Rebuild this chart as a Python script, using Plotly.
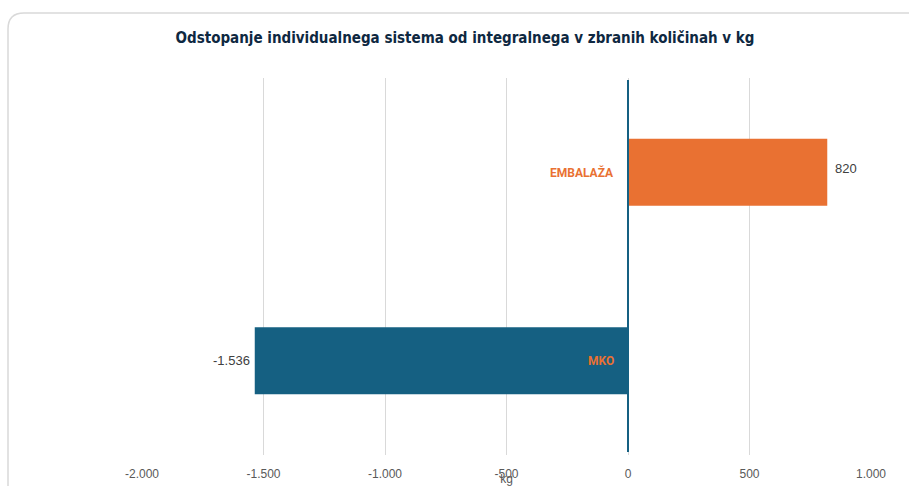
import plotly.graph_objects as go

categories = ["MKO", "EMBALAŽA"]
values = [-1536, 820]
colors = ["#156082", "#E97132"]
tick_vals = [-2000, -1500, -1000, -500, 0, 500, 1000]
tick_text = ["-2.000", "-1.500", "-1.000", "-500", "0", "500", "1.000"]

W, H = 909, 486
L, R, T, B = 142, 38, 78, 31
pw, ph = W - L - R, H - T - B

def px(x):
    return (x - L) / pw

def py(y):
    return (H - B - y) / ph

def fmt(v):
    return f"{v:,.0f}".replace(",", ".")

fig = go.Figure()
fig.add_trace(go.Bar(
    y=categories, x=values, orientation="h",
    marker=dict(color=colors, line=dict(width=0)),
    cliponaxis=False, hoverinfo="skip",
))

for c, v in zip(categories, values):
    fig.add_annotation(x=0, y=c, xref="x", yref="y", text="<b>" + c + "</b>",
                       showarrow=False, xanchor="right", xshift=-12,
                       font=dict(family="Roboto, Open Sans", size=12, color="#E97132"))
    fig.add_annotation(x=v, y=c, xref="x", yref="y", text=fmt(v),
                       showarrow=False,
                       xanchor="left" if v > 0 else "right",
                       xshift=6 if v > 0 else -3,
                       yshift=4 if v > 0 else 0,
                       font=dict(family="Liberation Sans, Arial", size=13, color="#404040"))

# card border with rounded top-left corner
x0, y0 = px(8), py(13)
rx, ry = 16 / pw, 16 / ph
xr, yb = px(930), py(500)
fig.add_shape(type="path", xref="paper", yref="paper",
              path=f"M {x0},{yb} L {x0},{y0-ry} Q {x0},{y0} {x0+rx},{y0} L {xr},{y0}",
              line=dict(color="#D9D9D9", width=1.5), layer="below")

fig.add_shape(type="line", xref="x", yref="paper", x0=0, x1=0, y0=py(452), y1=py(80),
              line=dict(color="#156082", width=2), layer="above")

fig.update_layout(
    width=W, height=H,
    margin=dict(l=L, r=R, t=T, b=B, autoexpand=False),
    paper_bgcolor="white", plot_bgcolor="white",
    showlegend=False,
    bargap=0.645,
    title=dict(text="<b>Odstopanje individualnega sistema od integralnega v zbranih količinah v kg</b>",
               x=465 / W, xref="container", xanchor="center", y=1 - 38 / H, yanchor="middle",
               font=dict(family="DejaVu Sans Condensed, Roboto", size=15, color="#0E2841")),
    xaxis=dict(range=[-2000, 1000], tickvals=tick_vals, ticktext=tick_text,
               automargin=False, ticklabelstandoff=10,
               showgrid=True, gridcolor="#D9D9D9", gridwidth=1,
               zeroline=False, showline=False, ticks="",
               tickfont=dict(family="Liberation Sans, Arial", size=12, color="#595959"),
               title=dict(text="kg", standoff=0,
                          font=dict(family="Liberation Sans, Arial", size=12, color="#595959"))),
    yaxis=dict(showticklabels=False, showgrid=False, zeroline=False, showline=False, ticks="",
               automargin=False),
)

fig.write_html("out.html", config={"displayModeBar": False},
               post_script="document.body.style.margin='0';document.body.style.overflow='hidden';")
